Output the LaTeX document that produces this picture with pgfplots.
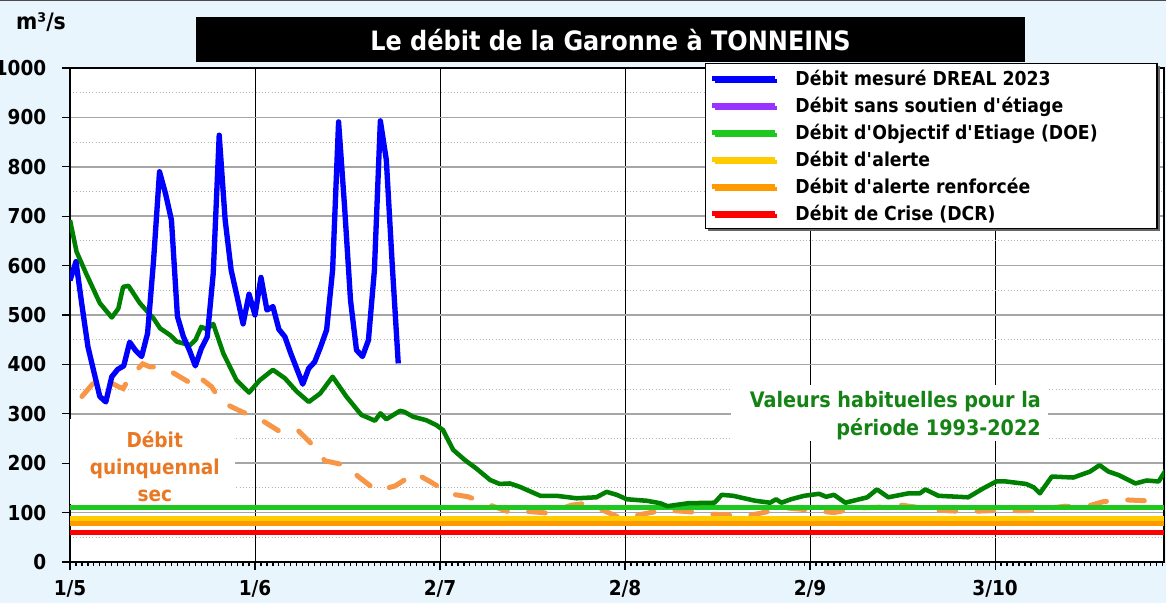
\documentclass[border=0pt]{standalone}
\usepackage{fontspec}
\setmainfont{DejaVu Sans}[FakeStretch=0.9]
\usepackage{pgfplots}
\pgfplotsset{compat=1.18}
\usetikzlibrary{shadows}
\definecolor{bgblue}{RGB}{232,245,253}
\definecolor{mesure}{RGB}{0,0,255}
\definecolor{sanssout}{RGB}{153,51,255}
\definecolor{doe}{RGB}{30,200,30}
\definecolor{alerte}{RGB}{255,204,0}
\definecolor{alerter}{RGB}{255,153,0}
\definecolor{crise}{RGB}{255,0,0}
\definecolor{habit}{RGB}{0,128,0}
\definecolor{quinq}{RGB}{247,150,70}
\definecolor{quinqtxt}{RGB}{232,120,35}
\definecolor{habittxt}{RGB}{20,130,20}
\newcommand{\ap}{\textquotesingle}
\begin{document}
\begin{tikzpicture}
\fill[bgblue] (0pt,0pt) rectangle (874.5pt,452.25pt);
\draw[black!70, line width=1pt] (0pt,452.25pt) -- (874.5pt,452.25pt);
\begin{axis}[
  at={(52.5pt,30.75pt)}, anchor=south west,
  width=820.5pt, height=370.5pt, scale only axis,
  xmin=0, xmax=183.3, ymin=0, ymax=1000,
  axis background/.style={fill=white},
  xtick={0,31,62,93,124,155},
  xticklabels={1/5,1/6,2/7,2/8,2/9,3/10},
  minor xtick={0,1,...,183},
  ytick={0,100,...,1000},
  minor ytick={50,150,...,950},
  xtick pos=left, ytick pos=left,
  tick align=outside,
  major tick length=6pt,
  minor tick length=3pt,
  minor y tick style={draw=none},
  xmajorgrids, ymajorgrids, yminorgrids,
  major x grid style={black, line width=0.75pt},
  major y grid style={black!35, line width=1.1pt},
  minor y grid style={black!30, dotted, line width=0.75pt},
  axis line style={line width=2pt, black},
  tick style={black, line width=0.9pt},
  ticklabel style={font=\fontsize{15.4}{18}\selectfont\bfseries},
  yticklabel style={xshift=-8.25pt},
  xticklabel style={yshift=-4.5pt},
  /pgf/number format/assume math mode=true,
  /pgf/number format/1000 sep={},
  legend style={
    at={(axis description cs:0.5804,1.0101)}, anchor=north west,
    draw=black, line width=1pt, fill=white,
    drop shadow={shadow xshift=2pt, shadow yshift=-2pt, fill=black!60, opacity=1},
    inner xsep=3pt, inner ysep=1pt,
    font=\fontsize{14.4}{16}\selectfont\bfseries,
    nodes={inner sep=0pt, text height=15pt, text depth=5.25pt},
    row sep=0pt,
  },
  legend cell align=left,
  legend image code/.code={\draw[#1] (0pt,0pt) -- (47pt,0pt); \path (61pt,0pt);},
]
% Debit quinquennal sec
\addplot[quinq, line width=3.75pt, dash pattern=on 12.5pt off 16pt, line cap=round, forget plot] table {
2 335
3.9 362
6 368
8.1 355
8.9 351
10 375
12.2 401
13.4 395
15.1 395
17 385
18.4 375
19.8 365
20.9 381
23.7 355
25.4 324
28.8 304
31.6 291
34.9 266
38 269
40.8 235
42.7 205
46.1 196
48.3 173
51.4 144
54.5 154
57.8 180
60.3 163
63.7 138
66.7 132
70.4 115
73.4 102
77.1 102
80.1 99
84 115
86.6 119
90.2 100
92.4 88
97.2 100
99.8 105
103.6 102
107 97
110.5 95
114.2 95
117.7 104
120.5 109
124.2 105
128 100
131.7 109
135.5 111
139.3 115
145.5 105
149.9 102
154.3 104
160.5 104
166.8 113
169.3 109
173.1 122
176.5 126
180.1 124
183.5 122
};
% thresholds
\addplot[alerte, line width=4.5pt, forget plot] coordinates {(0,88) (183.3,88)};
\addplot[alerter, line width=3.75pt, forget plot] coordinates {(0,78) (183.3,78)};
\addplot[crise, line width=3.75pt, forget plot] coordinates {(0,60) (183.3,60)};
\addplot[doe, line width=3.75pt, forget plot] coordinates {(0,110) (183.3,110)};
% valeurs habituelles
\addplot[habit, line width=3.4pt, line join=round, forget plot] table {
0 692
1.1 628
2.7 584
5 524
7 495
8.1 513
8.9 557
9.8 559
11.7 524
14 493
15.1 473
16.8 459
17.9 446
20.1 439
21 449
22 476
22.9 471
24 482
25.7 422
27.9 368
30 343
31.8 368
34 389
36 372
38 345
40 324
41.9 341
44 375
46.3 335
48.8 298
51.1 286
52 301
53 289
55.3 306
56 304
57.5 294
59.7 287
61.4 277
62.5 267
64.2 227
66.2 206
68 190
70.4 166
72 158
73.7 159
75.4 152
78.8 134
81.5 134
84.9 129
88.2 131
89.9 142
91.6 136
93.3 127
96.6 124
98.9 119
100.1 113
103.6 119
108 120
109.2 136
111.1 134
114.8 124
117.3 120
118.3 127
119.2 120
120.8 127
123 134
125.5 138
126.7 132
128 136
129.9 120
133.6 131
135.2 147
137.1 131
140.5 139
142.4 139
143.3 147
145.5 134
150.5 131
153 149
155.2 163
156.8 163
160.2 158
161.5 151
162.5 139
164.5 173
168.1 171
170.9 183
172.5 196
174 183
175.7 176
178.5 159
180.4 165
182.4 163
183.6 186
};
% debit mesure 2023
\addplot[mesure, line width=4pt, line join=round, forget plot] table {
0 570
1 608
2 520
3 436
4 385
5 335
6 324
7 375
8 390
9 397
10 445
11 428
12 416
13 463
14 610
15 790
16 746
17 692
18 497
19 456
20 429
21 397
22 432
23 456
24 584
25 864
26 692
27 591
28 537
29 482
30 542
31 500
32 576
33 510
34 517
35 471
36 456
37 422
38 391
39 360
40 392
41 405
42 436
43 470
44 591
45 891
46 720
47 530
48 429
49 416
50 449
51 590
52 893
53 814
54 600
55 402
};
\addlegendimage{mesure, line width=3.4pt}
\addlegendentry{\makebox[268pt][l]{Débit mesuré DREAL 2023}}
\addlegendimage{sanssout, line width=3.4pt}
\addlegendentry{\makebox[268pt][l]{Débit sans soutien d\ap étiage}}
\addlegendimage{doe, line width=3.4pt}
\addlegendentry{\makebox[268pt][l]{Débit d\ap Objectif d\ap Etiage (DOE)}}
\addlegendimage{alerte, line width=3.4pt}
\addlegendentry{\makebox[268pt][l]{Débit d\ap alerte}}
\addlegendimage{alerter, line width=3.4pt}
\addlegendentry{\makebox[268pt][l]{Débit d\ap alerte renforcée}}
\addlegendimage{crise, line width=3.4pt}
\addlegendentry{\makebox[268pt][l]{Débit de Crise (DCR)}}
% annotations
\node[fill=white, inner sep=0pt, minimum width=123.75pt, minimum height=63.75pt] at (axis cs:13.8,203) {};
\node[text=quinqtxt, align=center, inner sep=0pt, font=\fontsize{15.4}{20.25}\selectfont\bfseries] at (axis cs:14.2,193) {Débit\\quinquennal\\sec};
\node[fill=white, inner sep=0pt, minimum width=237.75pt, minimum height=42pt] at (axis cs:137.3,301.6) {};
\node[text=habittxt, align=right, anchor=east, inner sep=0pt, font=\fontsize{16}{21}\selectfont\bfseries] at (axis cs:162.7,296) {Valeurs habituelles pour la\\période 1993-2022};
\end{axis}
\node[fill=black, minimum width=621.75pt, minimum height=33.75pt, inner sep=0pt, text=white, font=\fontsize{20}{22}\selectfont\bfseries] at (457.9pt,422.6pt) {Le débit de la Garonne à TONNEINS};
\node[font=\fontsize{17}{19}\selectfont\bfseries] at (30.75pt,435.5pt) {m³/s};
\pgfresetboundingbox
\useasboundingbox (0pt,0pt) rectangle (874.5pt,452.25pt);
\end{tikzpicture}
\end{document}
